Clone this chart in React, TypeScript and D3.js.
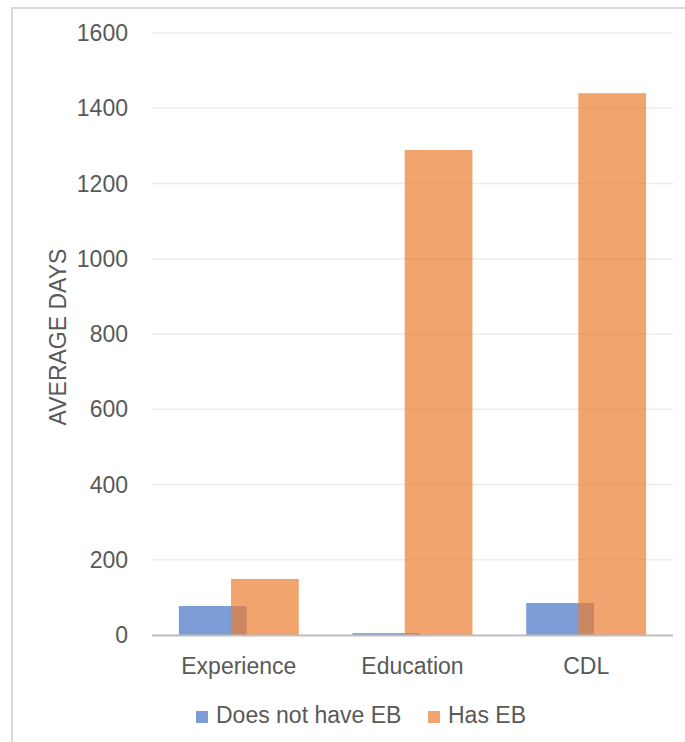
import React from 'react';
import * as d3 from 'd3';

// chart data
const categories = ['Experience', 'Education', 'CDL'];
const seriesNames = ['Does not have EB', 'Has EB'];
const noEB = [77, 5, 85];
const hasEB = [149, 1289, 1440];
const yTicks = [0, 200, 400, 600, 800, 1000, 1200, 1400, 1600];

const colors = ['#4472C4', '#ED7D31'];
const font = '"Liberation Sans", Arial, sans-serif';
const textColor = '#595959';
const fs = 23;

export default function App() {
  const width = 685;
  const height = 742;
  const plot = { left: 152, right: 673, top: 33, bottom: 635 };

  const x = d3.scaleBand<string>()
    .domain(categories)
    .range([plot.left, plot.right])
    .padding(0);

  const y = d3.scaleLinear()
    .domain([0, 1600])
    .range([plot.bottom, plot.top]);

  const band = x.bandwidth();
  const barW = band * 0.39;
  const overlap = barW * 0.23;
  const groupW = barW * 2 - overlap;

  const series = [noEB, hasEB];

  return (
    <svg
      width={width}
      height={height}
      style={{ position: 'absolute', left: 0, top: 0, background: '#fff' }}
      fontFamily={font}
    >
      {/* chart frame */}
      <rect x={12} y={8} width={700} height={760} fill="#fff" stroke="#d9d9d9" strokeWidth={2} />

      {/* gridlines */}
      {yTicks.map(t => (
        <line
          key={'g' + t}
          x1={plot.left}
          x2={plot.right}
          y1={y(t)}
          y2={y(t)}
          stroke="#ececec"
          strokeWidth={1.5}
        />
      ))}

      {/* tick labels */}
      {yTicks.map(t => (
        <text
          key={'t' + t}
          x={128}
          y={y(t)}
          dy="0.35em"
          textAnchor="end"
          fontSize={fs}
          fill={textColor}
        >
          {t}
        </text>
      ))}

      {/* y title */}
      <text
        transform={`translate(66, ${(plot.top + plot.bottom) / 2 + 3}) rotate(-90)`}
        textAnchor="middle"
        fontSize={fs}
        fill={textColor}
      >
        AVERAGE DAYS
      </text>

      {/* bars */}
      {series.map((vals, si) =>
        categories.map((c, ci) => {
          const cx = (x(c) as number) + band / 2;
          const left = cx - groupW / 2 + si * (barW - overlap);
          return (
            <rect
              key={si + '-' + c}
              x={left}
              y={y(vals[ci])}
              width={barW}
              height={y(0) - y(vals[ci])}
              fill={colors[si]}
              fillOpacity={0.7}
            />
          );
        })
      )}

      {/* x axis line */}
      <line
        x1={plot.left}
        x2={plot.right}
        y1={plot.bottom + 0.5}
        y2={plot.bottom + 0.5}
        stroke="#bfbfbf"
        strokeWidth={2}
      />

      {/* category labels */}
      {categories.map(c => (
        <text
          key={'c' + c}
          x={(x(c) as number) + band / 2}
          y={674}
          textAnchor="middle"
          fontSize={fs}
          fill={textColor}
        >
          {c}
        </text>
      ))}

      {/* legend */}
      {seriesNames.map((name, i) => {
        const lx = [196, 428][i];
        return (
          <g key={name} transform={`translate(${lx}, 711)`}>
            <rect width={12} height={12} fill={colors[i]} fillOpacity={0.7} />
            <text x={20} y={12} fontSize={fs} fill={textColor}>
              {name}
            </text>
          </g>
        );
      })}
    </svg>
  );
}
